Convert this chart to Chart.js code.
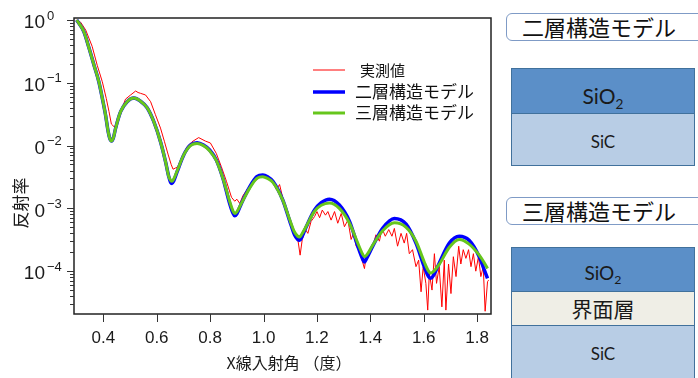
<!DOCTYPE html>
<html>
<head>
<meta charset="utf-8">
<script src="https://cdn.jsdelivr.net/npm/chart.js@4.4.1/dist/chart.umd.min.js"></script>
<style>
  body { margin: 0; width: 698px; height: 378px; overflow: hidden; background: #fff; position: relative; }
  #chart { position: absolute; left: 0; top: 0; }
  .tag { position: absolute; left: 506px; width: 220px; height: 28px; box-sizing: border-box;
         border: 1.5px solid #7f9bc6; border-radius: 6px; padding-left: 15px;
         font: 22px "Noto Sans CJK JP", sans-serif; line-height: 25px; color: #111; }
  .layer { position: absolute; left: 511px; width: 184px; box-sizing: border-box;
           border: 1.5px solid #41719c; }
  .lbl { position: absolute; left: 511px; width: 184px; text-align: center; color: #1a1a1a; }
  .en { font-family: Lato, "Open Sans", sans-serif; }
  .jp { font-family: "Noto Sans CJK JP", sans-serif; }
  sub { font-size: 65%; vertical-align: -0.35em; line-height: 0; }
</style>
</head>
<body>
<canvas id="chart" width="500" height="378"></canvas>

<div class="tag" style="top:13px">二層構造モデル</div>
<div class="layer" style="top:68px;height:46px;background:#5b8fc8"></div>
<div class="layer" style="top:112.5px;height:53px;background:#b8cde5"></div>
<div class="lbl en" style="top:84px;font-size:21px;line-height:24px">SiO<sub>2</sub></div>
<div class="lbl en" style="top:131px;font-size:17px;line-height:22px">SiC</div>

<div class="tag" style="top:197px">三層構造モデル</div>
<div class="layer" style="top:247px;height:45px;background:#5b8fc8"></div>
<div class="layer" style="top:290.5px;height:36px;background:#efeee6"></div>
<div class="layer" style="top:325px;height:60px;background:#b8cde5"></div>
<div class="lbl en" style="top:262px;font-size:19px;line-height:22px">SiO<sub>2</sub></div>
<div class="lbl jp" style="top:295px;font-size:21px;line-height:26px">界面層</div>
<div class="lbl en" style="top:343px;font-size:17px;line-height:22px">SiC</div>

<script>
// 測定データ（実測値）
const measX = [0.300, 0.315, 0.334, 0.358, 0.377, 0.396, 0.411, 0.421, 0.430, 0.440, 0.450, 0.465, 0.483, 0.502, 0.521, 0.530, 0.539, 0.558, 0.577, 0.595,
  0.614, 0.629, 0.643, 0.654, 0.661, 0.670, 0.679, 0.695, 0.714, 0.732, 0.757, 0.782, 0.801, 0.823, 0.842, 0.861, 0.880, 0.892, 0.900, 0.911,
  0.923, 0.942, 0.967, 0.992, 1.016, 1.035, 1.048, 1.060, 1.079, 1.091, 1.104, 1.116, 1.128, 1.137, 1.145, 1.157, 1.166, 1.178, 1.191, 1.200,
  1.210, 1.220, 1.232, 1.241, 1.253, 1.266, 1.278, 1.291, 1.303, 1.316, 1.328, 1.337, 1.347, 1.357, 1.369, 1.378, 1.384, 1.397, 1.409, 1.421,
  1.434, 1.444, 1.456, 1.469, 1.481, 1.490, 1.502, 1.515, 1.527, 1.536, 1.546, 1.558, 1.571, 1.581, 1.590, 1.598, 1.608, 1.615, 1.621, 1.631,
  1.640, 1.648, 1.658, 1.668, 1.677, 1.683, 1.693, 1.702, 1.711, 1.721, 1.731, 1.739, 1.748, 1.758, 1.768, 1.777, 1.786, 1.795, 1.805, 1.814,
  1.823, 1.830, 1.839, 1.843];
const measY = [1.0, 0.92, 0.69, 0.38, 0.19, 0.104, 0.056, 0.035, 0.022, 0.020, 0.021, 0.035, 0.055, 0.064, 0.074, 0.070, 0.068, 0.064, 0.050, 0.031,
  0.019, 0.0115, 0.0071, 0.0050, 0.0042, 0.0044, 0.0046, 0.0066, 0.0096, 0.0115, 0.0134, 0.0118, 0.0110, 0.0075, 0.0046, 0.0027, 0.0015, 0.0013, 0.0014, 0.0012,
  0.0016, 0.0021, 0.0027, 0.0033, 0.0032, 0.0026, 0.0020, 0.0024, 0.0011, 0.00089, 0.00055, 0.00040, 0.00033, 0.00018, 0.00032, 0.00046, 0.00040, 0.00062, 0.00074, 0.00089,
  0.00071, 0.00094, 0.00078, 0.00089, 0.00065, 0.00089, 0.00058, 0.00083, 0.00051, 0.00065, 0.00032, 0.00040, 0.00025, 0.00022, 0.00015, 0.00011, 0.00017, 0.00020, 0.00025, 0.00038,
  0.00030, 0.00048, 0.00036, 0.00046, 0.00036, 0.00048, 0.00025, 0.00040, 0.00028, 0.00040, 0.00019, 0.00022, 0.000118, 0.00015, 0.000047, 0.000118, 0.000064, 0.000024, 0.000093, 0.000050,
  0.00019, 0.000064, 0.000118, 0.000027, 0.00015, 0.000024, 0.00013, 0.000044, 0.00017, 0.000082, 0.00025, 0.00013, 0.00022, 0.00016, 0.00022, 0.000118, 0.00019, 0.00010, 0.00017, 0.000082,
  0.000118, 0.000023, 0.000068, 0.000072];

// モデル計算値
const modelX = [0.300, 0.327, 0.346, 0.365, 0.383, 0.396, 0.408, 0.418, 0.424, 0.431, 0.438, 0.446, 0.465, 0.489, 0.514, 0.539, 0.564, 0.589, 0.614, 0.633,
  0.645, 0.652, 0.657, 0.663, 0.676, 0.701, 0.726, 0.751, 0.775, 0.798, 0.823, 0.848, 0.873, 0.885, 0.892, 0.900, 0.917, 0.948, 0.975, 0.997,
  1.015, 1.035, 1.072, 1.097, 1.116, 1.128, 1.135, 1.142, 1.160, 1.191, 1.216, 1.247, 1.284, 1.322, 1.353, 1.370, 1.378, 1.386, 1.409, 1.446,
  1.490, 1.534, 1.571, 1.602, 1.618, 1.627, 1.636, 1.658, 1.696, 1.733, 1.770, 1.808, 1.825, 1.839];
const twoLayerY = [1.0, 0.65, 0.36, 0.19, 0.104, 0.057, 0.031, 0.0167, 0.013, 0.0118, 0.0135, 0.019, 0.035, 0.050, 0.057, 0.051, 0.040, 0.024, 0.0115, 0.0055,
  0.0032, 0.0026, 0.0025, 0.0027, 0.0038, 0.0071, 0.0102, 0.0111, 0.0102, 0.0085, 0.0059, 0.0030, 0.0012, 0.00085, 0.00076, 0.00082, 0.0012, 0.0022, 0.0032, 0.0034,
  0.0032, 0.0027, 0.00136, 0.00065, 0.00038, 0.00032, 0.00031, 0.00034, 0.00051, 0.00094, 0.00123, 0.0014, 0.00113, 0.00062, 0.00025, 0.00016, 0.00014, 0.00016, 0.00025, 0.00048,
  0.00069, 0.00056, 0.00028, 0.000118, 0.000082, 0.000077, 0.000085, 0.000134, 0.00028, 0.00036, 0.00031, 0.00017, 0.00011, 0.000077];
const threeLayerY = [1.0, 0.65, 0.36, 0.19, 0.104, 0.057, 0.031, 0.0167, 0.013, 0.0118, 0.0135, 0.019, 0.035, 0.050, 0.057, 0.051, 0.040, 0.024, 0.0115, 0.0055,
  0.0032, 0.0028, 0.0027, 0.0029, 0.0039, 0.0071, 0.0100, 0.0108, 0.0100, 0.0083, 0.0058, 0.0030, 0.0013, 0.00092, 0.00083, 0.00088, 0.0012, 0.0021, 0.0030, 0.0032,
  0.0030, 0.0026, 0.00135, 0.00068, 0.00042, 0.00036, 0.00035, 0.00038, 0.00052, 0.00090, 0.00112, 0.00122, 0.00100, 0.00058, 0.00028, 0.00019, 0.00017, 0.00018, 0.00026, 0.00044,
  0.00059, 0.00050, 0.00030, 0.00014, 0.000100, 0.000093, 0.000098, 0.000128, 0.00024, 0.00032, 0.00027, 0.00018, 0.00014, 0.00011];

// 目盛
const xTicks = [0.4, 0.6, 0.8, 1.0, 1.2, 1.4, 1.6, 1.8];
const yTicks = [1, 0.1, 0.01, 0.001, 0.0001];
const yTickExp = ['0', '\u22121', '\u22122', '\u22123', '\u22124'];
const minorDecades = [0.1, 0.01, 0.001, 0.0001, 0.00001];

const labelMeas = '実測値';
const labelTwo = '二層構造モデル';
const labelThree = '三層構造モデル';

function toPoints(xs, ys) {
    return xs.map((x, i) => ({ x: x, y: ys[i] }));
}

const numFont = '"Liberation Sans", Arial, sans-serif';
const jpFont = '"Noto Sans CJK JP", sans-serif';

// 軸・目盛・凡例を描く
const axisPlugin = {
    id: 'axisPlugin',
    afterDraw(chart) {
        const ctx = chart.ctx;
        const a = chart.chartArea;
        const xs = chart.scales.x, ys = chart.scales.y;
        ctx.save();

        // 枠
        ctx.strokeStyle = '#222';
        ctx.lineWidth = 1.5;
        ctx.strokeRect(a.left, a.top, a.right - a.left, a.bottom - a.top);

        // y 目盛
        ctx.lineWidth = 1;
        ctx.strokeStyle = '#333';
        yTicks.forEach(v => {
            const y = Math.round(ys.getPixelForValue(v)) + 0.5;
            ctx.beginPath(); ctx.moveTo(a.left - 7, y); ctx.lineTo(a.left, y); ctx.stroke();
        });
        minorDecades.forEach(d => {
            for (let m = 2; m <= 9; m++) {
                const v = d * m;
                if (v > ys.max || v < ys.min) continue;
                const y = Math.round(ys.getPixelForValue(v)) + 0.5;
                ctx.beginPath(); ctx.moveTo(a.left - 4, y); ctx.lineTo(a.left, y); ctx.stroke();
            }
        });

        // x 目盛
        xTicks.forEach(v => {
            const x = Math.round(xs.getPixelForValue(v)) + 0.5;
            ctx.beginPath(); ctx.moveTo(x, a.bottom); ctx.lineTo(x, a.bottom + 8); ctx.stroke();
        });

        ctx.fillStyle = '#1a1a1a';
        ctx.font = '17px ' + numFont;
        ctx.textAlign = 'center';
        ctx.textBaseline = 'middle';
        xTicks.forEach(v => {
            ctx.fillText(v.toFixed(1), xs.getPixelForValue(v), 338);
        });

        // y ラベル 10^n
        yTicks.forEach((v, i) => {
            const y = ys.getPixelForValue(v);
            ctx.font = '19px ' + numFont;
            ctx.textAlign = 'right';
            ctx.fillText('10', 45, y + 3);
            ctx.font = '13px ' + numFont;
            ctx.textAlign = 'left';
            ctx.fillText(yTickExp[i], 47, y - 4);
        });

        // y 軸タイトル（白い背景付き）
        ctx.fillStyle = '#fff';
        ctx.fillRect(0, 122, 34, 112);
        ctx.fillStyle = '#1a1a1a';
        ctx.translate(21, 203);
        ctx.rotate(-Math.PI / 2);
        ctx.font = '17px ' + jpFont;
        ctx.textAlign = 'center';
        ctx.fillText('反射率', 0, 0);
        ctx.setTransform(1, 0, 0, 1, 0, 0);

        // x 軸タイトル
        ctx.font = '16px ' + jpFont;
        ctx.textAlign = 'center';
        ctx.fillText('X線入射角 （度）', 289, 363);

        // 凡例
        const ds = chart.data.datasets;
        const rows = [
            { d: ds[0], y: 70, tx: 360, size: 15 },
            { d: ds[1], y: 92, tx: 355, size: 17 },
            { d: ds[2], y: 113, tx: 355, size: 17 }
        ];
        rows.forEach(r => {
            ctx.strokeStyle = r.d.borderColor;
            ctx.lineWidth = r.d.borderWidth;
            ctx.beginPath(); ctx.moveTo(313, r.y); ctx.lineTo(345, r.y); ctx.stroke();
            ctx.fillStyle = '#111';
            ctx.font = r.size + 'px ' + jpFont;
            ctx.textAlign = 'left';
            ctx.fillText(r.d.label, r.tx, r.y);
        });
        ctx.restore();
    }
};

new Chart(document.getElementById('chart'), {
    type: 'line',
    data: {
        datasets: [
            { label: labelMeas, data: toPoints(measX, measY), borderColor: '#ff0000', borderWidth: 1, pointRadius: 0, tension: 0, order: 3 },
            { label: labelTwo, data: toPoints(modelX, twoLayerY), borderColor: '#0000ff', borderWidth: 3.5, pointRadius: 0, cubicInterpolationMode: 'monotone', order: 2 },
            { label: labelThree, data: toPoints(modelX, threeLayerY), borderColor: '#66c61c', borderWidth: 3, pointRadius: 0, cubicInterpolationMode: 'monotone', order: 1 }
        ]
    },
    options: {
        responsive: false,
        animation: false,
        layout: { padding: { left: 74, top: 18, right: 9, bottom: 64 } },
        plugins: { legend: { display: false }, tooltip: { enabled: false } },
        scales: {
            x: { type: 'linear', min: 0.29, max: 1.852, display: false },
            y: { type: 'logarithmic', min: 2.08e-5, max: 1.076, display: false }
        }
    },
    plugins: [axisPlugin]
});
</script>
</body>
</html>
